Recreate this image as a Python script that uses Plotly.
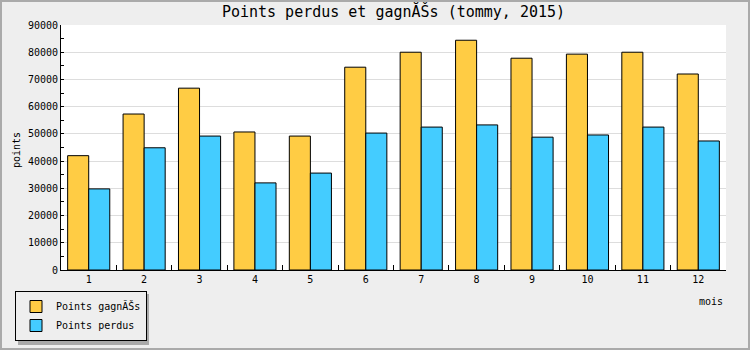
import plotly.graph_objects as go

months = [str(i) for i in range(1, 13)]
gagnes = [42000, 57300, 66800, 50700, 49200, 74500, 80000, 84400, 77800, 79300, 80000, 72000]
perdus = [29800, 44900, 49200, 32000, 35600, 50300, 52500, 53300, 48800, 49600, 52500, 47400]
series_names = ["Points gagnĂŠs", "Points perdus"]
title_text = "Points perdus et gagnĂŠs (tommy, 2015)"

W, H = 750, 350
L, R, T, B = 61, 24, 25, 80
PW, PH = W - L - R, H - T - B

def px(x):
    return (x - L) / PW

def py(y):
    return (H - B - y) / PH

FONT = "DejaVu Sans Mono"

fig = go.Figure()
fig.add_trace(go.Bar(x=months, y=gagnes, name=series_names[0],
                     marker=dict(color="#FFCC44", line=dict(color="black", width=1))))
fig.add_trace(go.Bar(x=months, y=perdus, name=series_names[1],
                     marker=dict(color="#44CCFF", line=dict(color="black", width=1))))

LEG_TOP = 291
fig.update_layout(
    width=W, height=H,
    margin=dict(l=L, r=R, t=T, b=B, pad=0, autoexpand=False),
    paper_bgcolor="#EEEEEE", plot_bgcolor="white",
    barmode="group", bargap=0.24, bargroupgap=0,
    font=dict(family=FONT, size=10, color="black"),
    title=dict(text=title_text, x=0.5, xref="paper", xanchor="center", y=1 - 6 / H, yanchor="top",
               font=dict(family=FONT, size=15, color="black")),
    showlegend=True,
    legend=dict(x=px(15), y=py(LEG_TOP), xanchor="left", yanchor="top",
                bgcolor="#EEEEEE", bordercolor="black", borderwidth=1,
                font=dict(family=FONT, size=10, color="black"), itemwidth=30,
                tracegroupgap=0),
)
fig.update_yaxes(range=[0, 90000], dtick=10000, tickformat="d", showgrid=True, gridcolor="#DDDDDD", gridwidth=1,
                 showline=True, linecolor="black", linewidth=1, ticks="inside", ticklen=3,
                 tickcolor="black", zeroline=False,
                 minor=dict(dtick=5000, ticks="inside", ticklen=3, tickcolor="black", showgrid=False),
                 tickfont=dict(family=FONT, size=10, color="black"))
fig.update_xaxes(showline=True, linecolor="black", linewidth=1, ticks="inside", ticklen=5,
                 tickson="boundaries", tickcolor="black", showgrid=False,
                 tickfont=dict(family=FONT, size=10, color="black"))

fig.add_annotation(text="points", xref="paper", yref="paper", x=px(16), y=py(150),
                   xanchor="center", yanchor="middle",
                   textangle=-90, showarrow=False, font=dict(family=FONT, size=10, color="black"))
fig.add_annotation(text="mois", xref="paper", yref="paper", x=px(725), y=py(301),
                   xanchor="right", yanchor="middle", showarrow=False,
                   font=dict(family=FONT, size=10, color="black"))

# legend shadow
fig.add_shape(type="rect", xref="paper", yref="paper", x0=px(18), x1=px(149), y0=py(LEG_TOP + 3), y1=py(LEG_TOP + 54),
              fillcolor="#AAAAAA", line=dict(width=0), layer="below")
# outer frame
fig.add_shape(type="rect", xref="paper", yref="paper", x0=px(1), x1=px(W - 1), y0=py(1), y1=py(H - 1),
              fillcolor="rgba(0,0,0,0)", line=dict(color="#AAAAAA", width=2))

fig.write_html("out.html")
